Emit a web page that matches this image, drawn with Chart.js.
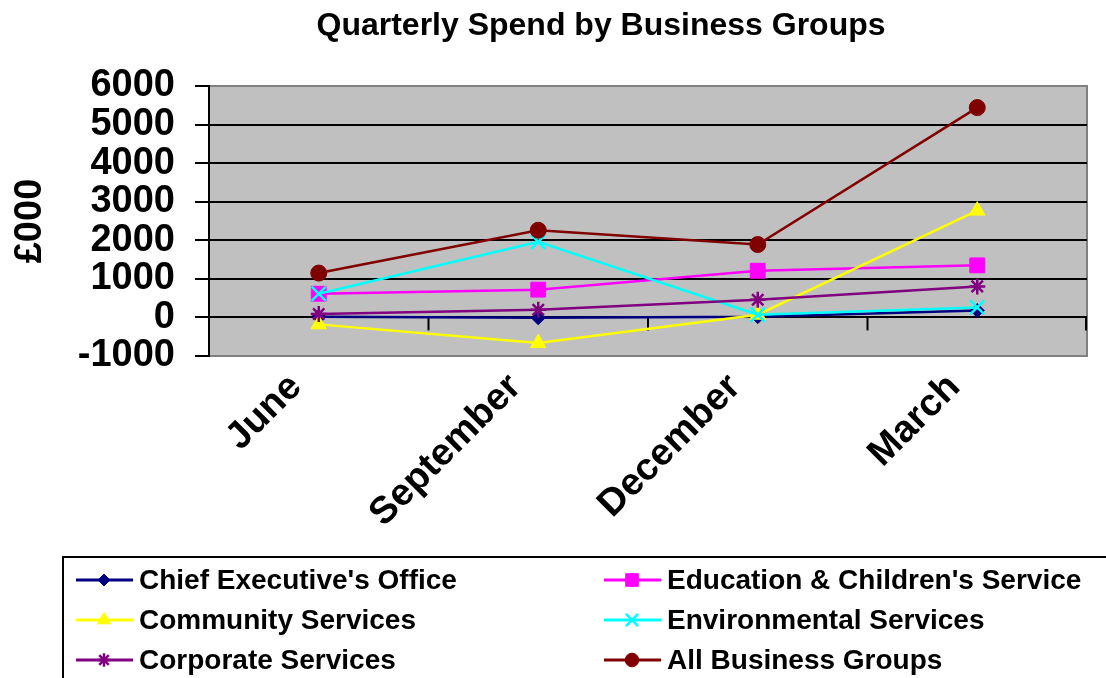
<!DOCTYPE html>
<html>
<head>
<meta charset="utf-8">
<script src="https://cdn.jsdelivr.net/npm/chart.js@4/dist/chart.umd.min.js"></script>
<style>
	html, body { margin: 0; padding: 0; background: #fff; }
	#wrap { width: 1106px; height: 678px; }
</style>
</head>
<body>
<div id="wrap"><canvas id="spendChart" width="1106" height="678"></canvas></div>
<script>
var quarters = ["June", "September", "December", "March"];
var chiefExec = [20, -10, 20, 180];
var education = [615, 720, 1210, 1350];
var community = [-180, -665, 70, 2770];
var environmental = [615, 1960, 70, 260];
var corporate = [90, 200, 460, 805];
var allGroups = [1150, 2260, 1890, 5440];
var yTicks = [-1000, 0, 1000, 2000, 3000, 4000, 5000, 6000];

var chartTitle = 'Quarterly Spend by Business Groups';
var FONT = '"Liberation Sans", Arial, sans-serif';

function series(label, data, color, style, radius, idx) {
	return {
		label: label,
		data: data,
		borderColor: color,
		backgroundColor: color,
		borderWidth: 2.5,
		pointStyle: style,
		pointRadius: radius,
		pointHoverRadius: radius,
		pointBorderWidth: (style === 'crossRot' || style === 'star') ? 2.5 : 1,
		pointBorderColor: color,
		pointBackgroundColor: color,
		order: 5 - idx,
		tension: 0
	};
}

// grey plot background with a thin grey frame, axis ticks on the zero line
var plotFrame = {
	id: 'plotFrame',
	beforeDraw: function (chart) {
		var a = chart.chartArea, c = chart.ctx;
		c.save();
		c.fillStyle = '#c0c0c0';
		c.fillRect(a.left, a.top, a.right - a.left, a.bottom - a.top);
		c.strokeStyle = '#808080';
		c.lineWidth = 2;
		c.strokeRect(a.left, a.top, a.right - a.left, a.bottom - a.top);
		// title sits a little right of the canvas centre
		c.fillStyle = '#000';
		c.font = 'bold 32px ' + FONT;
		c.textAlign = 'center';
		c.textBaseline = 'middle';
		c.fillText(chartTitle, 601, 26);
		c.restore();
	},
	beforeDatasetsDraw: function (chart) {
		var a = chart.chartArea, c = chart.ctx;
		var xs = chart.scales.x, y0 = chart.scales.y.getPixelForValue(0);
		c.save();
		c.strokeStyle = '#000';
		c.lineWidth = 2;
		for (var i = 0; i < quarters.length; i++) {
			var bx = i < quarters.length - 1
				? (xs.getPixelForValue(i) + xs.getPixelForValue(i + 1)) / 2
				: a.right - 1;
			c.beginPath();
			c.moveTo(bx, y0);
			c.lineTo(bx, y0 + 13);
			c.stroke();
		}
		c.restore();
	}
};

// two-column boxed legend under the axis labels
var boxLegend = {
	id: 'boxLegend',
	afterDraw: function (chart) {
		var c = chart.ctx;
		c.save();
		c.strokeStyle = '#000';
		c.lineWidth = 2;
		c.strokeRect(63, 557, 1200, 200);
		c.font = 'bold 28px ' + FONT;
		c.textBaseline = 'middle';
		c.textAlign = 'left';
		chart.data.datasets.forEach(function (ds, i) {
			var x0 = i % 2 === 0 ? 76 : 604;
			var y = 580 + Math.floor(i / 2) * 40;
			c.strokeStyle = ds.borderColor;
			c.fillStyle = ds.borderColor;
			c.lineWidth = 3;
			c.beginPath();
			c.moveTo(x0, y);
			c.lineTo(x0 + 57, y);
			c.stroke();
			c.lineWidth = ds.pointBorderWidth;
			Chart.helpers.drawPoint(c, {
				pointStyle: ds.pointStyle,
				radius: ds.pointRadius * 0.85,
				borderWidth: ds.pointBorderWidth,
				rotation: 0
			}, x0 + 28, y);
			c.fillStyle = '#000';
			c.fillText(ds.label, x0 + 63, y + 1);
		});
		c.restore();
	}
};

var ctx = document.getElementById("spendChart").getContext("2d");
var myChart = new Chart(ctx, {
	type: 'line',
	data: {
		labels: quarters,
		datasets: [
			series("Chief Executive's Office", chiefExec, '#000080', 'rectRot', 7, 0),
			series("Education & Children's Service", education, '#ff00ff', 'rect', 10.5, 1),
			series("Community Services", community, '#ffff00', 'triangle', 9, 2),
			series("Environmental Services", environmental, '#00ffff', 'crossRot', 10, 3),
			series("Corporate Services", corporate, '#800080', 'star', 8, 4),
			series("All Business Groups", allGroups, '#800000', 'circle', 8, 5)
		]
	},
	plugins: [plotFrame, boxLegend],
	options: {
		responsive: false,
		animation: false,
		layout: {
			padding: { left: 0, right: 19, top: 86, bottom: 0 }
		},
		plugins: {
			legend: { display: false },
			tooltip: { enabled: false },
			title: { display: false }
		},
		scales: {
			x: {
				offset: true,
				grid: { display: false, drawTicks: false },
				border: { display: false },
				ticks: {
					color: '#000',
					font: { family: FONT, size: 38, weight: 'bold' },
					minRotation: 45,
					maxRotation: 45,
					labelOffset: -23,
					padding: 9
				},
				afterFit: function (s) { s.height = 678 - 356; }
			},
			y: {
				min: -1000,
				max: 6000,
				afterBuildTicks: function (s) {
					s.ticks = yTicks.map(function (v) { return { value: v }; });
				},
				grid: {
					color: function (c) {
						var v = c.tick && c.tick.value;
						return (v === -1000 || v === 6000) ? '#808080' : '#000';
					},
					tickColor: '#000',
					lineWidth: 2,
					tickLength: 14
				},
				border: { display: true, color: '#000', width: 2 },
				ticks: {
					color: '#000',
					padding: 20,
					autoSkip: false,
					callback: function (v) { return String(v); },
					font: { family: FONT, size: 38, weight: 'bold' }
				},
				title: {
					display: true,
					text: '£000',
					color: '#000',
					font: { family: FONT, size: 38, weight: 'bold' },
					padding: { top: 8, bottom: 0 }
				},
				afterFit: function (s) { s.width = 209; }
			}
		}
	}
});
</script>
</body>
</html>
